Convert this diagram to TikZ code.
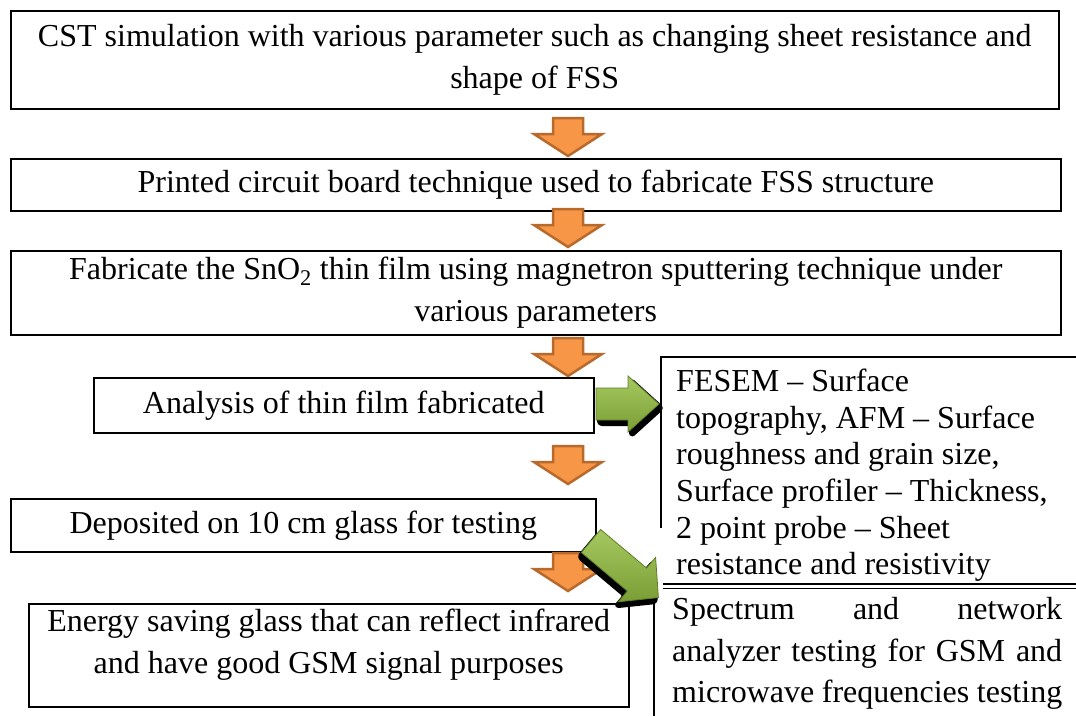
\documentclass[tikz,border=0pt]{standalone}
\usepackage{fontspec}
\setmainfont{Liberation Serif}
\usetikzlibrary{calc}
\definecolor{orfill}{HTML}{F79646}
\definecolor{ordraw}{HTML}{B8692C}
\definecolor{grlight}{HTML}{A6C860}
\definecolor{grdark}{HTML}{7A9E35}
\definecolor{grdraw}{HTML}{5E7F27}
\begin{document}
\begin{tikzpicture}[x=1pt,y=-1pt,
  box/.style={draw, line width=1.5pt, inner sep=0pt, align=center,
    font=\fontsize{32}{42}\selectfont},
  orarrow/.style={fill=orfill, draw=ordraw, line width=2.5pt, line join=miter},
  grshadow/.style={fill=black, draw=black, line width=4pt, line join=round, rounded corners=3pt},
  grarrow/.style={top color=grlight, bottom color=grdark, draw=grdraw, line width=0.8pt, line join=miter},
  pics/downarrow/.style={code={
    \draw[orarrow] (-15,0) -- (15,0) -- (15,16) -- (34,16) -- (0,38)
      -- (-34,16) -- (-15,16) -- cycle;}}
]
\useasboundingbox (0,0) rectangle (1076,716);

% main boxes
\node[box, minimum width=1048, minimum height=98, anchor=north west] (cst) at (10,10)
  {CST simulation with various parameter such as changing sheet resistance and\\shape of FSS};
\node[box, minimum width=1050, minimum height=52, anchor=north west] (pcb) at (10,158)
  {Printed circuit board technique used to fabricate FSS structure};
\node[box, minimum width=1050, minimum height=84, anchor=north west] (sno) at (10,250)
  {Fabricate the SnO\textsubscript{2} thin film using magnetron sputtering technique under\\various parameters};
\node[box, minimum width=500, minimum height=55, anchor=north west] (ana) at (93,377)
  {Analysis of thin film fabricated};
\node[box, minimum width=585, minimum height=53, anchor=north west] (dep) at (10,498)
  {Deposited on 10 cm glass for testing};
\node[box, minimum width=600, minimum height=103, anchor=north west] (ene) at (28,603) {};
\node[align=center, inner sep=0pt, font=\fontsize{32}{42}\selectfont] (enetxt)
  at ([yshift=11pt]ene.center)
  {Energy saving glass that can reflect infrared\\and have good GSM signal purposes};

% orange block arrows
\pic at (568,118) {downarrow};
\pic at (568,209) {downarrow};
\pic at (568,338) {downarrow};
\pic at (568,446) {downarrow};
\pic at (568,553) {downarrow};

% right boxes
\coordinate (fa) at (1076,357);
\coordinate (fb) at (661,357);
\coordinate (fc) at (661,528);
\draw[line width=2pt] (fa) -- (fb) -- (fc);
\node[anchor=north west, align=left, inner sep=0pt,
  font=\fontsize{32}{36.6}\selectfont] (fesem) at (676,369)
  {FESEM – Surface\\topography, AFM – Surface\\roughness and grain size,\\Surface profiler – Thickness,\\2 point probe – Sheet\\resistance and resistivity};
\draw[line width=1.5pt] (663,584) -- (1076,584);
\draw[line width=1.5pt] (663,588.5) -- (1076,588.5);
\coordinate (sa) at (654,598);
\coordinate (sb) at (654,716);
\draw[line width=2pt] (sa) -- (sb);
\node[anchor=north west, align=left, inner sep=0pt,
  font=\fontsize{32}{41.6}\selectfont] (spec) at (672,597)
  {\makebox[390pt][s]{Spectrum and network}\\
   \makebox[390pt][s]{analyzer testing for GSM and}\\
   \makebox[390pt][s]{microwave frequencies testing}};

% green block arrows
\begin{scope}[shift={(596,404)}]
  \draw[grshadow, shift={(3,4)}] (0,-16) -- (32,-16) -- (32,-28) -- (63,0)
    -- (32,28) -- (32,16) -- (0,16) -- cycle;
  \draw[grarrow] (0,-16) -- (32,-16) -- (32,-28) -- (63,0)
    -- (32,28) -- (32,16) -- (0,16) -- cycle;
\end{scope}
\begin{scope}[shift={(591,541)}, rotate=-40]
  \draw[grshadow, shift={(1,5)}] (0,-15) -- (60,-15) -- (60,-29) -- (88,0)
    -- (60,29) -- (60,15) -- (0,15) -- cycle;
  \draw[grarrow] (0,-15) -- (60,-15) -- (60,-29) -- (88,0)
    -- (60,29) -- (60,15) -- (0,15) -- cycle;
\end{scope}
\end{tikzpicture}
\end{document}
